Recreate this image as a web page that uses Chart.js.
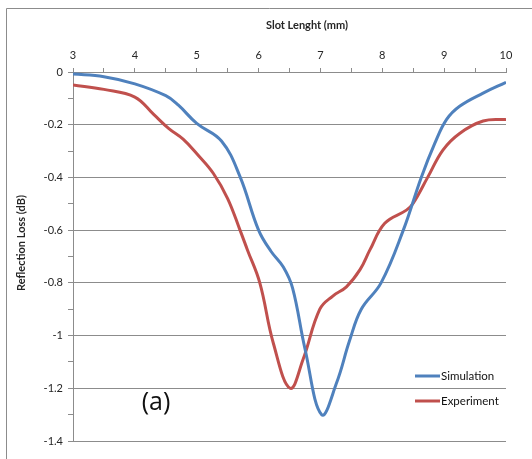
<!DOCTYPE html>
<html>
<head>
<meta charset="utf-8">
<script src="https://cdn.jsdelivr.net/npm/chart.js@4/dist/chart.umd.min.js"></script>
<style>
  html, body { margin: 0; padding: 0; background: #fff; }
  #wrap { width: 532px; height: 459px; position: relative; }
</style>
</head>
<body>
<div id="wrap"><canvas id="c" width="532" height="459"></canvas></div>
<script>
// Slot length (mm) sample positions and reflection loss (dB)
const simX = [3, 3.5, 4, 4.5, 4.7, 5, 5.4, 5.7, 6.0, 6.2, 6.4, 6.55, 6.75, 7.02, 7.26, 7.47, 7.66, 7.98, 8.34, 8.63, 8.85, 9.04, 9.25, 9.63, 10];
const simY = [-0.008, -0.018, -0.045, -0.09, -0.125, -0.195, -0.262, -0.397, -0.60, -0.68, -0.74, -0.82, -1.05, -1.30, -1.18, -1.02, -0.90, -0.80, -0.60, -0.40, -0.27, -0.18, -0.13, -0.08, -0.039];

const expX = [3, 3.5, 4.0, 4.3, 4.55, 4.78, 5.02, 5.27, 5.5, 5.7, 5.82, 6.02, 6.24, 6.51, 6.72, 6.99, 7.2, 7.42, 7.64, 7.8, 8.04, 8.39, 8.5, 8.74, 8.98, 9.25, 9.63, 10];
const expY = [-0.049, -0.066, -0.095, -0.16, -0.215, -0.255, -0.315, -0.385, -0.48, -0.60, -0.675, -0.80, -1.03, -1.20, -1.09, -0.90, -0.85, -0.815, -0.75, -0.675, -0.574, -0.524, -0.498, -0.397, -0.296, -0.233, -0.186, -0.18];

const seriesNames = ['Simulation', 'Experiment'];
const xTitle = 'Slot Lenght (mm)';
const yTitle = 'Reflection Loss (dB)';
const panelTag = '(a)';

const toPoints = (xs, ys) => xs.map((x, i) => ({ x: x, y: ys[i] }));

const GRID = '#8c8c8c';
const TEXT = '#262626';
const FONT = 'Lato, "Open Sans", sans-serif';

// Frame, axis titles, in-plot legend and panel tag
const decorations = {
  id: 'decorations',
  beforeDraw(chart) {
    const ctx = chart.ctx;
    ctx.save();
    ctx.fillStyle = '#ffffff';
    ctx.fillRect(0, 0, chart.width, chart.height);
    ctx.strokeStyle = '#8c8c8c';
    ctx.lineWidth = 1;
    ctx.beginPath();
    ctx.moveTo(6.5, chart.height);
    ctx.lineTo(6.5, 8.5);
    ctx.lineTo(chart.width, 8.5);
    ctx.stroke();
    ctx.restore();
  },
  afterDraw(chart) {
    const ctx = chart.ctx;
    ctx.save();
    ctx.fillStyle = TEXT;
    ctx.font = 'bold 11px ' + FONT;
    ctx.textAlign = 'center';
    ctx.textBaseline = 'middle';
    ctx.fillText(xTitle, 307, 25);

    ctx.save();
    ctx.translate(21, 243);
    ctx.rotate(-Math.PI / 2);
    ctx.fillText(yTitle, 0, 0);
    ctx.restore();

    // legend entries
    ctx.font = '11.5px ' + FONT;
    ctx.textAlign = 'left';
    const rows = [376, 401];
    chart.data.datasets.forEach((ds, i) => {
      const y = rows[i];
      ctx.strokeStyle = ds.borderColor;
      ctx.lineWidth = 3;
      ctx.beginPath();
      ctx.moveTo(415, y);
      ctx.lineTo(440, y);
      ctx.stroke();
      ctx.fillStyle = '#111';
      ctx.fillText(ds.label, 441, y);
    });

    ctx.fillStyle = '#111';
    ctx.font = '25px "Open Sans", sans-serif';
    ctx.textAlign = 'center';
    ctx.fillText(panelTag, 156, 403);
    ctx.restore();
  }
};

new Chart(document.getElementById('c'), {
  type: 'line',
  data: {
    datasets: [
      {
        label: seriesNames[0],
        data: toPoints(simX, simY),
        borderColor: '#4F81BD',
        backgroundColor: '#4F81BD',
        borderWidth: 3,
        pointRadius: 0,
        tension: 0.4,
        fill: false
      },
      {
        label: seriesNames[1],
        data: toPoints(expX, expY),
        borderColor: '#C0504D',
        backgroundColor: '#C0504D',
        borderWidth: 3,
        pointRadius: 0,
        tension: 0.4,
        fill: false
      }
    ]
  },
  options: {
    responsive: false,
    animation: false,
    layout: { padding: { left: 0, top: 0, right: 26, bottom: 18 } },
    plugins: {
      legend: { display: false },
      tooltip: { enabled: false },
      title: { display: false }
    },
    scales: {
      x: {
        type: 'linear',
        position: 'top',
        min: 3,
        max: 10,
        afterFit(scale) { scale.height = 72; },
        ticks: {
          stepSize: 0.5,
          autoSkip: false,
          maxRotation: 0,
          padding: 6,
          color: TEXT,
          font: { family: FONT, size: 11 },
          callback: (v) => (Number.isInteger(v) ? String(v) : '')
        },
        grid: {
          drawOnChartArea: false,
          drawTicks: true,
          tickLength: 4,
          color: GRID,
          tickColor: GRID
        },
        border: { display: true, color: GRID, width: 1 }
      },
      y: {
        type: 'linear',
        min: -1.4,
        max: 0,
        afterFit(scale) { scale.width = 73; },
        ticks: {
          stepSize: 0.1,
          autoSkip: false,
          padding: 5,
          color: TEXT,
          font: { family: FONT, size: 11 },
          callback: (v) => {
            const k = Math.round(v * 10);
            return k % 2 === 0 ? String(k / 10) : '';
          }
        },
        grid: {
          drawTicks: true,
          tickLength: 5,
          color: (c) => (c.tick && Math.round(c.tick.value * 10) % 2 === 0 ? GRID : 'rgba(0,0,0,0)'),
          tickColor: GRID
        },
        border: { display: true, color: GRID, width: 1 }
      }
    }
  },
  plugins: [decorations]
});
</script>
</body>
</html>
